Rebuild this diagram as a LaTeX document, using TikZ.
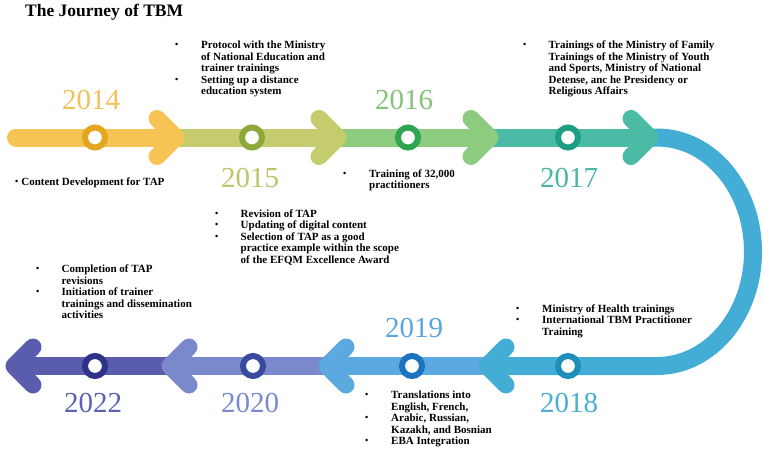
\documentclass[tikz,border=0pt]{standalone}
\usepackage{fontspec}
\setmainfont{Liberation Serif}
\definecolor{c14}{HTML}{F6C454}\definecolor{r14}{HTML}{E4A51F}\definecolor{t14}{HTML}{F2C25A}
\definecolor{c15}{HTML}{C5CC6E}\definecolor{r15}{HTML}{8EA83A}\definecolor{t15}{HTML}{BFC46A}
\definecolor{c16}{HTML}{8DCB7E}\definecolor{r16}{HTML}{2FA453}\definecolor{t16}{HTML}{86C27A}
\definecolor{c17}{HTML}{4BBBA5}\definecolor{r17}{HTML}{1E9E84}\definecolor{t17}{HTML}{4CB6A6}
\definecolor{c18}{HTML}{43ADD5}\definecolor{r18}{HTML}{1E8FBB}\definecolor{t18}{HTML}{4AAED8}
\definecolor{c19}{HTML}{5CA9E0}\definecolor{r19}{HTML}{1A72C0}\definecolor{t19}{HTML}{5BA5DF}
\definecolor{c20}{HTML}{7A88CC}\definecolor{r20}{HTML}{3A4A9E}\definecolor{t20}{HTML}{7A8AD0}
\definecolor{c22}{HTML}{5A5DAE}\definecolor{r22}{HTML}{2E3388}\definecolor{t22}{HTML}{5A62B4}
\newcommand{\bul}{\raisebox{0.8pt}{\fontsize{9}{9}\selectfont\textbullet}}
\tikzset{
  band/.style={line width=18pt},
  chev/.style={line width=17pt, line cap=round, line join=round},
  ring/.style={circle, fill=white, line width=6pt, minimum size=20pt, inner sep=0pt},
  yr/.style={inner sep=0pt, font=\fontsize{29}{29}\selectfont},
  txt/.style={inner sep=0pt, anchor=base west, font=\fontsize{11}{11.5}\selectfont\bfseries},
}
\begin{document}
\begin{tikzpicture}[x=1pt, y=-1pt]
\useasboundingbox[fill=white] (0,0) rectangle (764,453);
% title
\node[inner sep=0pt, anchor=base west, font=\fontsize{17.5}{17.5}\selectfont\bfseries] (title) at (25,16) {The Journey of TBM};
% coordinates
\coordinate (s0) at (16,137.5);
\coordinate (v1) at (176,137.5);
\coordinate (v2) at (338,137.5);
\coordinate (v3) at (490,137.5);
\coordinate (v4) at (650,137.5);
\coordinate (a0) at (657,137.5);
\coordinate (a1) at (753,251.75);
\coordinate (a2) at (657,366);
\coordinate (b1) at (487,366);
\coordinate (b2) at (327,366);
\coordinate (b3) at (170,366);
\coordinate (b4) at (14,366);
% bands
\draw[band, c14, line cap=round] (s0) -- (v1);
\draw[band, c15] (v1) -- (v2);
\draw[band, c16] (v2) -- (v3);
\draw[band, c17] (v3) -- (v4);
\draw[band, c18] (v4) -- (a0) .. controls (710,137.5) and (753,188.6) .. (a1)
   .. controls (753,314.9) and (710,366) .. (a2) -- (b1);
\draw[band, c19] (b1) -- (b2);
\draw[band, c20] (b2) -- (b3);
\draw[band, c22] (b3) -- (b4);
% chevrons
\draw[chev, c14] (v1) ++(-19,-19) -- (v1) -- ++(-19,19);
\draw[chev, c15] (v2) ++(-19,-19) -- (v2) -- ++(-19,19);
\draw[chev, c16] (v3) ++(-19,-19) -- (v3) -- ++(-19,19);
\draw[chev, c17] (v4) ++(-19,-19) -- (v4) -- ++(-19,19);
\draw[chev, c18] (b1) ++(19,-19) -- (b1) -- ++(19,19);
\draw[chev, c19] (b2) ++(19,-19) -- (b2) -- ++(19,19);
\draw[chev, c20] (b3) ++(19,-19) -- (b3) -- ++(19,19);
\draw[chev, c22] (b4) ++(19,-19) -- (b4) -- ++(19,19);
% rings
\node[ring, draw=r14] (p14) at (95,137.5) {};
\node[ring, draw=r15] (p15) at (252,137.5) {};
\node[ring, draw=r16] (p16) at (408,137.5) {};
\node[ring, draw=r17] (p17) at (568,137.5) {};
\node[ring, draw=r18] (p18) at (568,366) {};
\node[ring, draw=r19] (p19) at (412,366) {};
\node[ring, draw=r20] (p20) at (253,366) {};
\node[ring, draw=r22] (p22) at (95,366) {};
% years
\node[yr, text=t14] (y14) at (91,100) {2014};
\node[yr, text=t15] (y15) at (250,178) {2015};
\node[yr, text=t16] (y16) at (404,100) {2016};
\node[yr, text=t17] (y17) at (569,178) {2017};
\node[yr, text=t18] (y18) at (569,403) {2018};
\node[yr, text=t19] (y19) at (414,328) {2019};
\node[yr, text=t20] (y20) at (250,403) {2020};
\node[yr, text=t22] (y22) at (93,403) {2022};
% descriptions
\node[txt] (d14) at (15,185) {\bul\hspace{3pt}Content Development for TAP};
\node[txt] (d15) at (175,48.5) {\begin{tabular}[t]{@{}p{26pt}@{}l@{}}
\bul & Protocol with the Ministry\\
 & of National Education and\\
 & trainer trainings\\
\bul & Setting up a distance\\
 & education system\end{tabular}};
\node[txt] (d16) at (343,177) {\begin{tabular}[t]{@{}p{26pt}@{}l@{}}
\bul & Training of 32,000\\
 & practitioners\end{tabular}};
\node[txt] (d17) at (523,48.5) {\begin{tabular}[t]{@{}p{25.5pt}@{}l@{}}
\bul & Trainings of the Ministry of Family\\
 & Trainings of the Ministry of Youth\\
 & and Sports, Ministry of National\\
 & Detense, anc he Presidency or\\
 & Religious Affairs\end{tabular}};
\node[txt] (d20) at (215,217) {\begin{tabular}[t]{@{}p{25.5pt}@{}l@{}}
\bul & Revision of TAP\\
\bul & Updating of digital content\\
\bul & Selection of TAP as a good\\
 & practice example within the scope\\
 & of the EFQM Excellence Award\end{tabular}};
\node[txt] (d22) at (36,272.5) {\begin{tabular}[t]{@{}p{25.5pt}@{}l@{}}
\bul & Completion of TAP\\
 & revisions\\
\bul & Initiation of trainer\\
 & trainings and dissemination\\
 & activities\end{tabular}};
\node[txt] (d18) at (516,312) {\begin{tabular}[t]{@{}p{26pt}@{}l@{}}
\bul & Ministry of Health trainings\\
\bul & International TBM Practitioner\\
 & Training\end{tabular}};
\node[txt] (d19) at (365,398.5) {\begin{tabular}[t]{@{}p{26pt}@{}l@{}}
\bul & Translations into\\
 & English, French,\\
\bul & Arabic, Russian,\\
 & Kazakh, and Bosnian\\
\bul & EBA Integration\end{tabular}};
\end{tikzpicture}
\end{document}
